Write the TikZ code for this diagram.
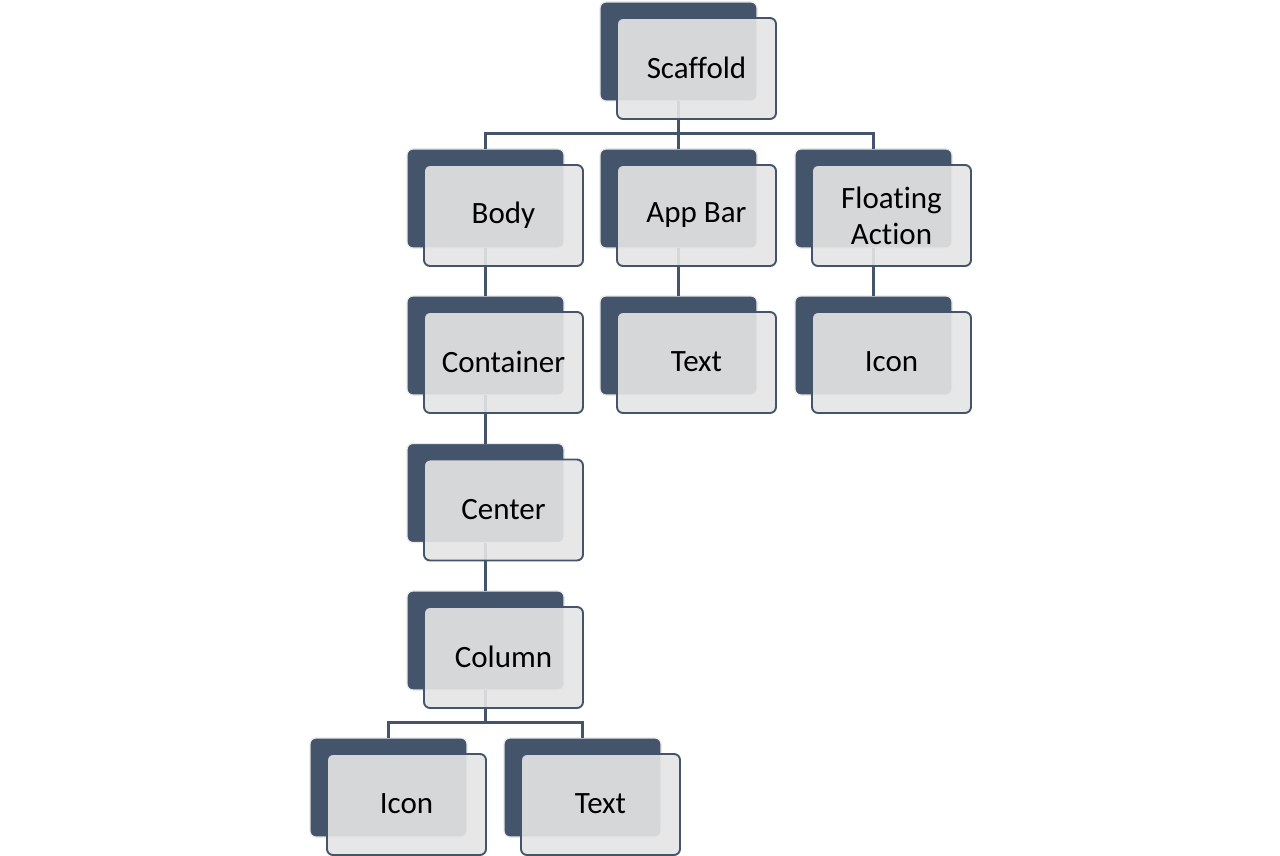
\documentclass[tikz,border=0pt]{standalone}
\usepackage{fontspec}
\setmainfont{Carlito}[Ligatures=NoCommon, RawFeature={-liga;-clig;-calt;-dlig}]
\usetikzlibrary{calc}
\definecolor{slate}{HTML}{44546A}
\definecolor{frontgray}{RGB}{229,229,229}
\definecolor{rimgray}{RGB}{232,232,232}
\tikzset{
  backbox/.style={rectangle, rounded corners=6pt, fill=slate, draw=rimgray, line width=1.2pt,
    minimum width=157pt, minimum height=99pt, inner sep=0pt, outer sep=0pt, anchor=north west},
  frontbox/.style={rectangle, rounded corners=6pt, fill=frontgray, fill opacity=0.91, text opacity=1,
    draw=slate, draw opacity=1, line width=1.9pt, minimum width=159pt, minimum height=101pt,
    inner sep=0pt, outer sep=0pt, align=center, font=\fontsize{31}{36}\selectfont},
  conn/.style={draw=slate, line width=2.2pt}
}
\begin{document}
\begin{tikzpicture}[x=1pt,y=-1pt]
\useasboundingbox (0,0) rectangle (1280,856);
% back boxes
\node[backbox] (scb) at (600,2) {};
\node[backbox] (bodyb) at (407,149) {};
\node[backbox] (appb) at (600,149) {};
\node[backbox] (flb) at (795,149) {};
\node[backbox] (contb) at (407,296) {};
\node[backbox] (apptxtb) at (600,296) {};
\node[backbox] (flicb) at (795,296) {};
\node[backbox] (centb) at (407,443.5) {};
\node[backbox] (colb) at (407,591) {};
\node[backbox] (icb) at (310,738) {};
\node[backbox] (txtb) at (504,738) {};
% connector bars
\coordinate (bar1) at (680,133.5);
\coordinate (bar2) at (486,722.5);
% connectors
\draw[conn] (scb.south) -- (scb.south |- bar1);
\draw[conn] (bodyb.north) |- (bar1 -| flb.north) -- (flb.north);
\draw[conn] (scb.south |- bar1) -- (appb.north);
\draw[conn] (bodyb.south) -- (contb.north);
\draw[conn] (contb.south) -- (centb.north);
\draw[conn] (centb.south) -- (colb.north);
\draw[conn] (appb.south) -- (apptxtb.north);
\draw[conn] (flb.south) -- (flicb.north);
\draw[conn] (colb.south) -- (colb.south |- bar2);
\draw[conn] (icb.north) |- (bar2 -| txtb.north) -- (txtb.north);
% front boxes
\node[frontbox, anchor=north west] (sc) at ($(scb.north west)+(17,16)$) {\raisebox{2pt}{Scaffold}};
\node[frontbox, anchor=north west] (body) at ($(bodyb.north west)+(17,16)$) {\raisebox{1pt}{Body}};
\node[frontbox, anchor=north west] (app) at ($(appb.north west)+(17,16)$) {\raisebox{1pt}{App Bar}};
\node[frontbox, anchor=north west] (fl) at ($(flb.north west)+(17,16)$) {Floating\\Action};
\node[frontbox, anchor=north west] (cont) at ($(contb.north west)+(17,16)$) {\raisebox{2pt}{Container}};
\node[frontbox, anchor=north west] (apptxt) at ($(apptxtb.north west)+(17,16)$) {\raisebox{1pt}{Text}};
\node[frontbox, anchor=north west] (flic) at ($(flicb.north west)+(17,16)$) {\raisebox{1pt}{Icon}};
\node[frontbox, anchor=north west] (cent) at ($(centb.north west)+(17,16)$) {\raisebox{1pt}{Center}};
\node[frontbox, anchor=north west] (col) at ($(colb.north west)+(17,16)$) {\raisebox{2pt}{Column}};
\node[frontbox, anchor=north west] (ic) at ($(icb.north west)+(17,16)$) {\raisebox{1pt}{Icon}};
\node[frontbox, anchor=north west] (txt) at ($(txtb.north west)+(17,16)$) {\raisebox{1pt}{Text}};
\end{tikzpicture}
\end{document}
